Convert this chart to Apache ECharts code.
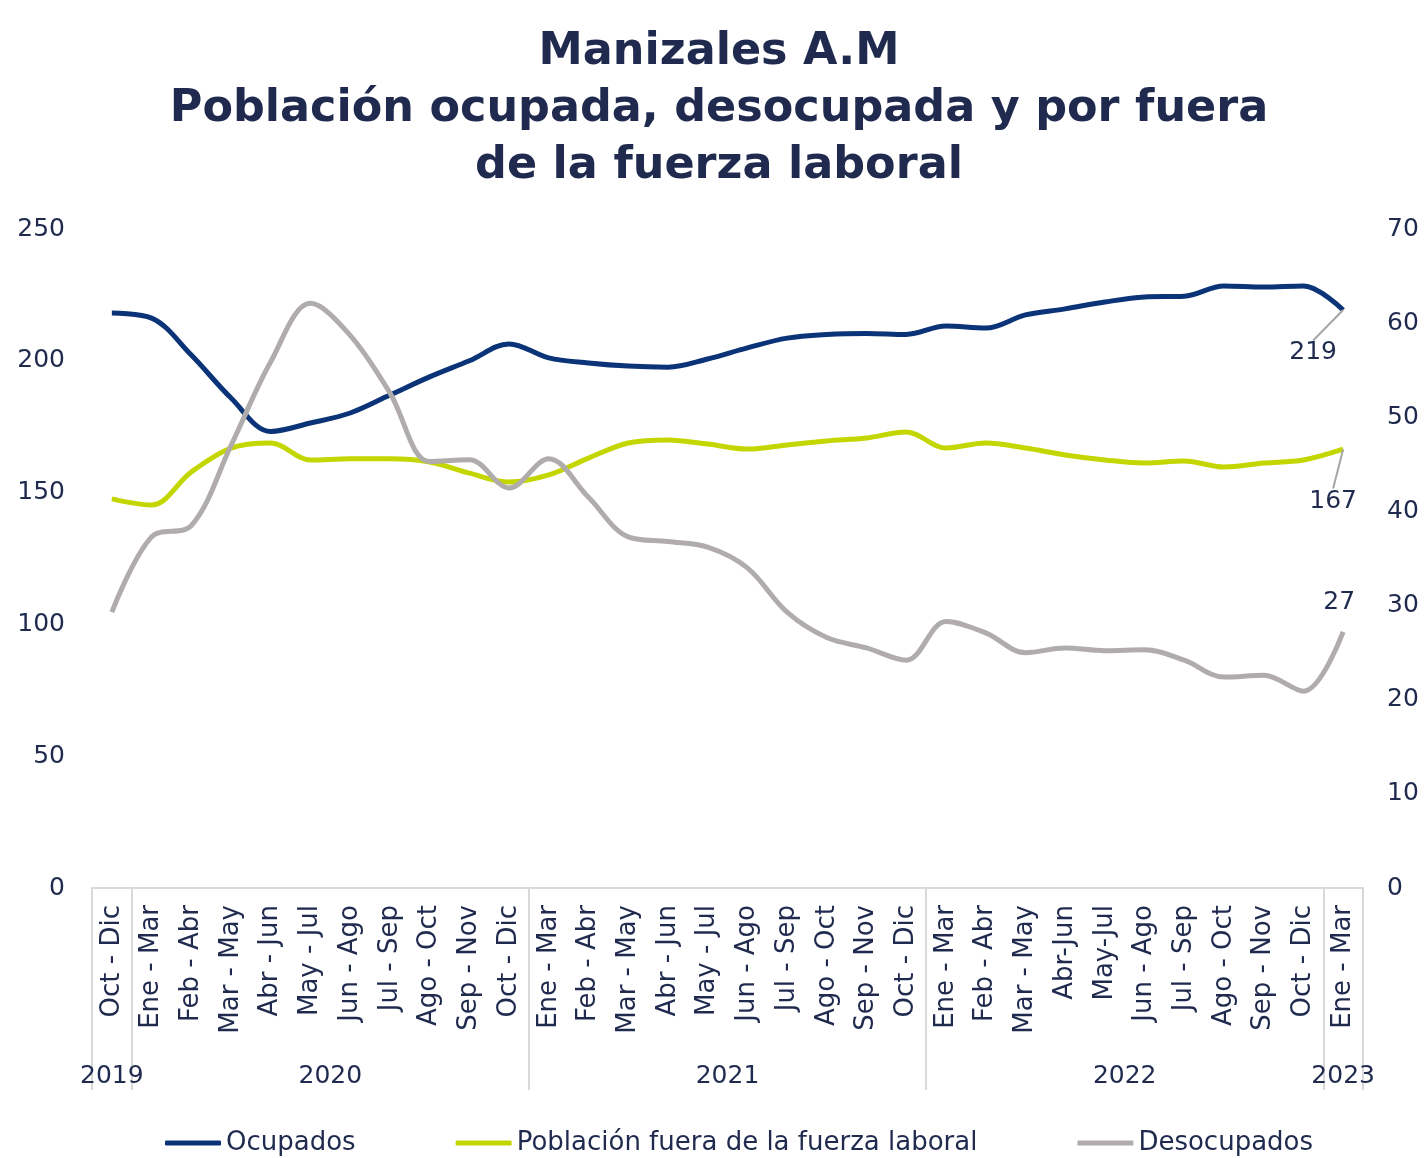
<html>
<head>
    <meta http-equiv="Content-Type" content="text/html; charset=utf-8"/>
    <title>Manizales A.M</title>
    <style type="text/css">
        body, #chart {
            border: 0px;
            margin: 0px;
            padding: 0px;
            width: 1424px;
            height: 1158px;
            background: #ffffff;
        }
    </style>
    <script type="text/javascript" src="https://cdn.jsdelivr.net/npm/echarts@6/dist/echarts.min.js"></script>
    <script type="text/javascript">
        var categories = ['Oct - Dic',
            'Ene - Mar', 'Feb - Abr', 'Mar - May', 'Abr - Jun', 'May - Jul', 'Jun - Ago', 'Jul - Sep', 'Ago - Oct', 'Sep - Nov', 'Oct - Dic',
            'Ene - Mar', 'Feb - Abr', 'Mar - May', 'Abr - Jun', 'May - Jul', 'Jun - Ago', 'Jul - Sep', 'Ago - Oct', 'Sep - Nov', 'Oct - Dic',
            'Ene - Mar', 'Feb - Abr', 'Mar - May', 'Abr-Jun', 'May-Jul', 'Jun - Ago', 'Jul - Sep', 'Ago - Oct', 'Sep - Nov', 'Oct - Dic',
            'Ene - Mar'];
        var years = ['2019', '2020', '2021', '2022', '2023'];
        var yearCenters = [0.5, 6, 16, 26, 31.5];
        var yearBounds = [0, 1, 11, 21, 31, 32];
        var ocupados = [218.1, 216.2, 202.2, 185.9, 173.2, 176.4, 180.2, 187, 193.9, 200, 206.4,
            201.1, 199.2, 198, 197.6, 200.7, 204.9, 208.6, 210, 210.4, 210,
            213.2, 212.4, 217.4, 219.7, 222.3, 224.2, 224.5, 228.4, 228, 228.4,
            219.3];
        var fuera = [147.6, 145.3, 157.8, 166.9, 168.8, 162.4, 162.8, 162.8, 161.6, 157.4, 154,
            156.7, 163.1, 168.8, 170, 168.4, 166.5, 168.1, 169.6, 170.7, 173,
            166.9, 168.8, 166.9, 164.3, 162.4, 161.2, 162, 159.7, 161.2, 162.4,
            166.5];
        var desocupados = [29.3, 37.3, 38.5, 47, 55.9, 62.1, 58.7, 52.6, 45.3, 45.5, 42.5,
            45.6, 41.5, 37.3, 36.8, 36.2, 34, 29.3, 26.6, 25.5, 24.2,
            28.3, 27.1, 25, 25.5, 25.2, 25.3, 24.2, 22.4, 22.6, 20.9,
            27.2];

        var navy = '#1f2a4e';
        var font = 'DejaVu Sans';

        // only the last point of each series gets a label
        function lastLabel(arr, guide, pad) {
            return arr.map(function (v, i) {
                if (i < arr.length - 1) return v;
                return {value: v, label: {show: true, padding: pad}, labelLine: {show: guide}};
            });
        }

        function lineSeries(name, color, yIndex, values, dx, dy, guide, pad) {
            return {
                name: name,
                type: 'line',
                smooth: 0.35,
                symbol: 'circle',
                symbolSize: 0.1,
                showSymbol: true,
                xAxisIndex: 0,
                yAxisIndex: yIndex,
                color: color,
                itemStyle: {color: color},
                lineStyle: {width: 5, color: color},
                label: {
                    show: false,
                    position: 'inside',
                    fontSize: 25,
                    color: navy,
                    fontFamily: font,
                    formatter: function (p) { return Math.round(p.value); }
                },
                labelLine: {lineStyle: {color: '#a6a6a6', width: 2}},
                labelLayout: {dx: dx, dy: dy},
                emphasis: {disabled: true},
                data: lastLabel(values, guide, pad)
            };
        }

        function init() {
            var chart = echarts.init(document.getElementById('chart'));
            var option = {
                backgroundColor: '#ffffff',
                animation: false,
                textStyle: {fontFamily: font},
                title: {
                    text: 'Manizales A.M\nPoblación ocupada, desocupada y por fuera\nde la fuerza laboral',
                    left: 714,
                    textAlign: 'center',
                    top: 19,
                    textStyle: {
                        fontFamily: font,
                        fontSize: 44.5,
                        fontWeight: 'bold',
                        lineHeight: 57,
                        color: navy
                    }
                },
                legend: {
                    bottom: -3,
                    left: 160,
                    itemWidth: 56,
                    itemHeight: 5,
                    itemGap: 100,
                    icon: 'roundRect',
                    textStyle: {fontFamily: font, fontSize: 26, color: navy},
                    data: ['Ocupados', 'Población fuera de la fuerza laboral', 'Desocupados']
                },
                grid: {left: 92, right: 61, top: 229, bottom: 270},
                xAxis: [{
                    type: 'category',
                    data: categories,
                    boundaryGap: true,
                    axisTick: {show: false},
                    axisLine: {lineStyle: {color: '#d9d9d9', width: 2}},
                    axisLabel: {rotate: 90, interval: 0, margin: 17, fontSize: 26, color: navy, fontFamily: font}
                }, {
                    type: 'value',
                    position: 'bottom',
                    min: 0,
                    max: 32,
                    axisLine: {show: false},
                    splitLine: {show: false},
                    axisTick: {
                        show: true,
                        customValues: yearBounds,
                        length: 202,
                        lineStyle: {color: '#d9d9d9', width: 2}
                    },
                    axisLabel: {
                        customValues: yearCenters,
                        margin: 176,
                        fontSize: 25,
                        color: navy,
                        fontFamily: font,
                        formatter: function (v) {
                            var k = yearCenters.indexOf(v);
                            return k >= 0 ? years[k] : '';
                        }
                    }
                }],
                yAxis: [{
                    type: 'value',
                    min: 0,
                    max: 250,
                    interval: 50,
                    splitLine: {show: false},
                    axisLine: {show: false},
                    axisTick: {show: false},
                    axisLabel: {fontSize: 25, color: navy, margin: 27, fontFamily: font}
                }, {
                    type: 'value',
                    min: 0,
                    max: 70,
                    interval: 10,
                    position: 'right',
                    splitLine: {show: false},
                    axisLine: {show: false},
                    axisTick: {show: false},
                    axisLabel: {fontSize: 25, color: navy, margin: 24, fontFamily: font}
                }],
                series: [
                    lineSeries('Ocupados', '#0b3478', 0, ocupados, -30, 43, true, [10, 0, 22, 0]),
                    lineSeries('Población fuera de la fuerza laboral', '#c4d600', 0, fuera, -10, 52, true, 0),
                    lineSeries('Desocupados', '#b0acac', 1, desocupados, -4, -29, false, 0)
                ]
            };
            chart.setOption(option);
        }
    </script>
</head>
<body onLoad="init()">
<div id="chart"></div>
</body>
</html>
